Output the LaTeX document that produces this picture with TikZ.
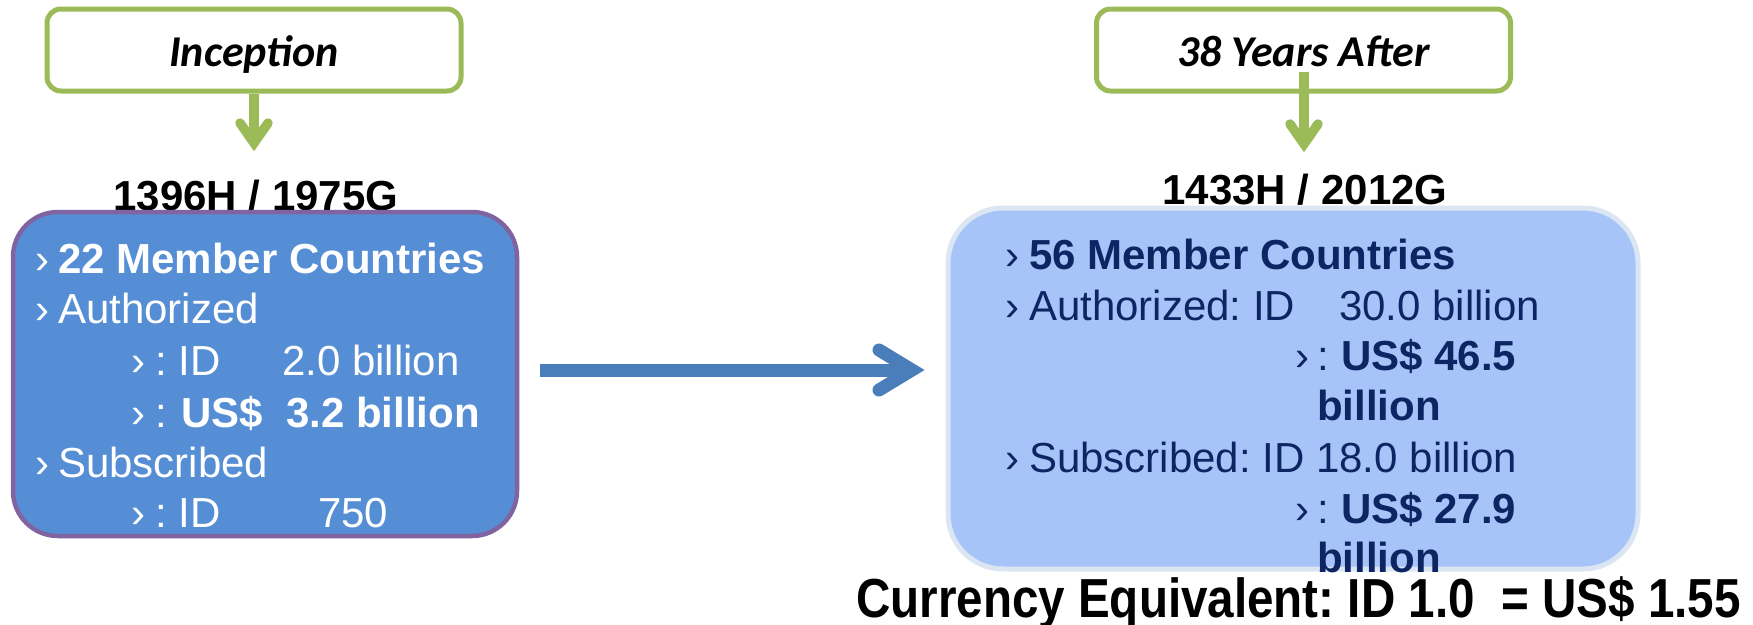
\documentclass[tikz,border=0pt]{standalone}
\usepackage{fontspec}
\usepackage{graphicx}
\setmainfont{Liberation Sans}
\newfontfamily\calfont{Carlito}
\usetikzlibrary{calc}
\definecolor{gbord}{HTML}{9BBB59}
\definecolor{lfill}{HTML}{558ED5}
\definecolor{lbord}{HTML}{8064A2}
\definecolor{rfill}{HTML}{A7C4F9}
\definecolor{rbord}{HTML}{DCE6F2}
\definecolor{navy}{HTML}{0E2564}
\definecolor{barrowc}{HTML}{4A7EBB}
\begin{document}
\frenchspacing
\begin{tikzpicture}[x=1pt,y=-1pt,
  gbox/.style={draw=gbord, line width=5pt, fill=white, rounded corners=14pt,
    minimum width=414pt, minimum height=82pt, inner sep=0pt,
    font=\calfont\bfseries\itshape\fontsize{44}{50}\selectfont,
    text height=32pt, text depth=0pt},
  garrow/.style={draw=gbord, line width=9.5pt},
  gchev/.style={draw=gbord, line width=9.5pt, line cap=round, line join=miter},
  bline/.style={draw=barrowc, line width=13pt},
  bchev/.style={draw=barrowc, line width=13pt, line cap=round, line join=miter},
  ttl/.style={anchor=base, inner sep=0pt, font=\bfseries\fontsize{42}{50}\selectfont},
  txt/.style={anchor=base west, inner sep=0pt, font=\fontsize{42}{50}\selectfont},
  btxt/.style={txt, font=\bfseries\fontsize{42}{50}\selectfont},
  lt/.style={text=white},
  rt/.style={text=navy}
]
\useasboundingbox (0,0) rectangle (1753,624);

% top labels
\node[gbox] (incep) at (254,50) {Inception};
\node[gbox] (after) at (1303.5,50) {38 Years After};

% years
\node[ttl] (t1) at (256,210) {1396H / 1975G};
\node[ttl] (t2) at (1305,204) {1433H / 2012G};

% green arrows
\coordinate (tipA) at (254,143);
\draw[garrow] (incep.south) -- (tipA);
\draw[gchev] ($(tipA)+(-14,-20)$) -- (tipA) -- ($(tipA)+(14,-20)$);
\coordinate (startB) at (1304,72);
\coordinate (tipB) at (1304,144);
\draw[garrow] (startB) -- (tipB);
\draw[gchev] ($(tipB)+(-14,-20)$) -- (tipB) -- ($(tipB)+(14,-20)$);

% boxes
\path[draw=lbord, line width=4.5pt, fill=lfill, rounded corners=45pt]
  (13,212) rectangle (517,536);
\node[inner sep=0pt, minimum width=504pt, minimum height=324pt] (lbox) at (265,374) {};
\path[draw=rbord, line width=5pt, fill=rfill, rounded corners=55pt]
  (948,208) rectangle (1638,569);
\node[inner sep=0pt, minimum width=690pt, minimum height=361pt] (rbox) at (1293,388.5) {};

% big arrow
\coordinate (bstart) at (540,370);
\coordinate (btip) at (912,370);
\draw[bline] (bstart) -- (btip);
\draw[bchev] ($(btip)+(-33,-20)$) -- (btip) -- ($(btip)+(-33,20)$);

% left texts
\node[txt,lt] (lc1) at (35,273) {›};
\node[btxt,lt] (l1) at (58,273) {22 Member Countries};
\node[txt,lt] (lc2) at (35,323) {›};
\node[txt,lt] (l2) at (58,323) {Authorized};
\node[txt,lt] (lc3) at (131,375) {›};
\node[txt,lt] (l3a) at (155,375) {: ID};
\node[txt,lt] (l3b) at (282,375) {2.0 billion};
\node[txt,lt] (lc4) at (131,427) {›};
\node[txt,lt] (l4a) at (155,427) {:};
\node[btxt,lt] (l4b) at (181,427) {US\$};
\node[btxt,lt] (l4c) at (286,427) {3.2 billion};
\node[txt,lt] (lc5) at (35,477) {›};
\node[txt,lt] (l5) at (58,477) {Subscribed};
\node[txt,lt] (lc6) at (131,527) {›};
\node[txt,lt] (l6a) at (155,527) {: ID};
\node[txt,lt] (l6b) at (318,527) {750};

% right texts
\node[txt,rt] (rc1) at (1005,269) {›};
\node[btxt,rt] (r1) at (1029,269) {56 Member Countries};
\node[txt,rt] (rc2) at (1005,320) {›};
\node[txt,rt] (r2a) at (1029,320) {Authorized: ID};
\node[txt,rt] (r2b) at (1339,320) {30.0 billion};
\node[txt,rt] (rc3) at (1295,370) {›};
\node[txt,rt] (r3a) at (1317,370) {:};
\node[btxt,rt] (r3b) at (1341,370) {US\$ 46.5};
\node[btxt,rt] (r4) at (1317,420) {billion};
\node[txt,rt] (rc5) at (1005,472) {›};
\node[txt,rt] (r5) at (1029,472) {Subscribed: ID 18.0 billion};
\node[txt,rt] (rc6) at (1295,523) {›};
\node[txt,rt] (r6a) at (1317,523) {:};
\node[btxt,rt] (r6b) at (1341,523) {US\$ 27.9};
\node[btxt,rt] (r7) at (1317,572) {billion};

% currency
\node[anchor=base west, inner sep=0pt, font=\bfseries\fontsize{55}{60}\selectfont] (cur) at (856,617)
  {\scalebox{0.865}[1]{Currency Equivalent: ID 1.0 \ = US\$ 1.55}};
\end{tikzpicture}
\end{document}
